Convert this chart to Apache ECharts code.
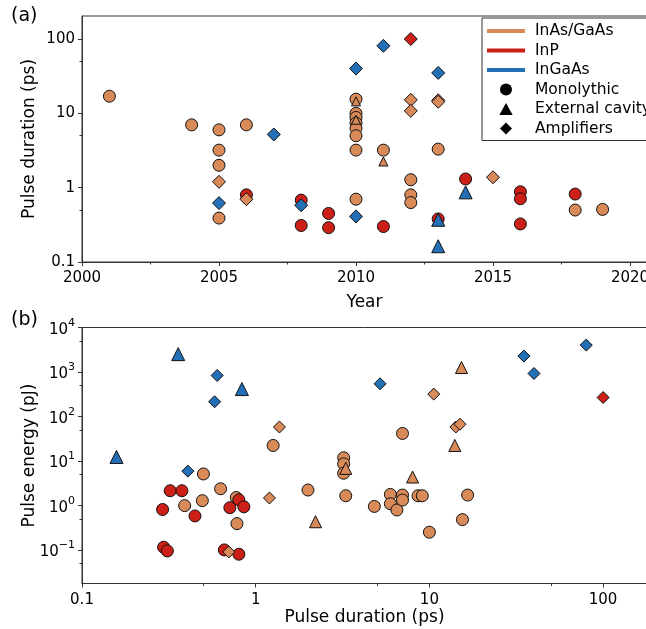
<!DOCTYPE html>
<html><head><meta charset="utf-8">
<script src="https://cdn.jsdelivr.net/npm/echarts@6/dist/echarts.min.js"></script>
<style>html,body{margin:0;padding:0;background:#fff}#c{width:646px;height:629px}</style>
</head><body><div id="c"></div><script>
// ---------- Panel (a): year vs pulse duration (ps) ----------
const a_InAs_mono = [[2001,17],[2004,7.0],[2005,6.0],[2005,3.2],[2005,2.0],[2005,0.39],[2006,7.0],
  [2010,15.5],[2010,10],[2010,8.8],[2010,7.4],[2010,6.3],[2010,5.0],[2010,3.2],[2010,0.70],
  [2011,3.2],[2012,1.28],[2012,0.80],[2012,0.63],[2013,3.3],[2018,0.50],[2019,0.51]];
const a_InP_mono = [[2006,0.80],[2008,0.68],[2008,0.31],[2009,0.45],[2009,0.29],[2011,0.30],
  [2013,0.38],[2014,1.31],[2016,0.88],[2016,0.71],[2016,0.325],[2018,0.82]];
const a_InAs_ext = [[2010,14.5],[2010,8.2],[2011,2.25]];
const a_InGaAs_ext = [[2013,0.37],[2013,0.163],[2014,0.865]];
const a_InAs_amp = [[2005,1.2],[2006,0.70],[2012,15.2],[2012,10.8],[2013,15.0],[2013,14.3],[2015,1.38]];
const a_InP_amp = [[2012,100]];
const a_InGaAs_amp = [[2005,0.62],[2007,5.2],[2008,0.58],[2010,40],[2010,0.41],[2011,81],[2013,35]];

// ---------- Panel (b): pulse duration (ps) vs pulse energy (pJ) ----------
const b_InAs_mono = [[1.26,22.3],[0.50,5.1],[0.628,2.37],[0.39,0.99],[0.493,1.28],[0.773,1.51],[0.78,0.39],
  [10,0.25],[7.0,41.5],[3.21,11.8],[3.21,8.6],[3.21,5.3],[2.0,2.22],[3.3,1.65],[4.82,0.95],[5.96,1.77],
  [5.96,1.09],[6.5,0.79],[7.0,1.71],[7.0,1.32],[8.6,1.65],[9.1,1.65],[15.5,0.48],[16.6,1.71]];
const b_InP_mono = [[0.322,2.14],[0.376,2.14],[0.291,0.81],[0.447,0.58],[0.80,1.34],[0.71,0.89],[0.855,0.93],
  [0.295,0.115],[0.31,0.095],[0.66,0.10],[0.80,0.08]];
const b_InAs_ext = [[15.3,1260],[14.0,22.3],[3.3,6.8],[8.0,4.35],[2.21,0.43]];
const b_InGaAs_ext = [[0.358,2520],[0.833,413],[0.158,12.3]];
const b_InAs_amp = [[1.37,58],[1.2,1.47],[10.6,318],[14.2,58],[15.0,67],[0.70,0.09]];
const b_InP_amp = [[100,267]];
const b_InGaAs_amp = [[0.60,835],[0.58,214],[0.407,5.9],[5.2,543],[35,2275],[40,925],[80,4020]];

// ---------- ticks ----------
const xTicksA = [2000,2005,2010,2015,2020];
const xTickLabelsA = ['2000','2005','2010','2015','2020'];
const xMinorA = [2002.5,2007.5,2012.5,2017.5];
const yTicksA = [0.1,1,10,100];
const yTickLabelsA = ['0.1','1','10','100'];
const yMinorA = [0.5,5,50];
const xTicksB = [0.1,1,10,100];
const xTickLabelsB = ['0.1','1','10','100'];
const xMinorB = [0.5,5,50];
const yTicksB = [0.1,1,10,100,1000,10000];
const yTickExpB = ['\u22121','0','1','2','3','4'];
const yMinorB = [0.05,0.5,5,50,500,5000];

const legendMaterials = ['InAs/GaAs','InP','InGaAs'];
const legendTypes = ['Monolythic','External cavity','Amplifiers'];

const ORANGE = '#d88a58', RED = '#cc1f17', BLUE = '#2370b7';
const FONT = 'DejaVu Sans';
const AX = '#333';

function lookup(ticks, labels, v) {
  for (let i = 0; i < ticks.length; i++) {
    if (Math.abs(v - ticks[i]) <= Math.abs(ticks[i]) * 1e-6) return labels[i];
  }
  return '';
}

function mainAxis(o) {
  return Object.assign({
    axisLine: {show: true, lineStyle: {color: AX, width: 1}},
    axisTick: {show: true, length: 4, lineStyle: {color: AX, width: 1}, customValues: o.ticks},
    axisLabel: {customValues: o.ticks, formatter: v => o.fmt(v), margin: o.margin, fontSize: 15,
      color: '#000', fontFamily: FONT, rich: o.rich},
    splitLine: {show: false},
    nameLocation: 'middle',
    nameMoveOverlap: false,
    nameTextStyle: {fontSize: 17, color: '#000', fontFamily: FONT}
  }, o.base);
}
function minorAxis(base, ticks) {
  return Object.assign({
    axisLine: {show: false},
    axisTick: {show: true, length: 2.5, lineStyle: {color: AX, width: 1}, customValues: ticks},
    axisLabel: {show: false},
    splitLine: {show: false}
  }, base);
}

const xaBase = {type: 'value', gridIndex: 0, min: 2000, max: 2000 + 565/27.4, position: 'bottom'};
const yaBase = {type: 'log', logBase: 10, gridIndex: 0, min: 0.1, max: 204, position: 'left'};
const xbBase = {type: 'log', logBase: 10, gridIndex: 1, min: 0.1, max: Math.pow(10, -1 + 565/173.7), position: 'bottom'};
const ybBase = {type: 'log', logBase: 10, gridIndex: 1, min: Math.pow(10, -1.755), max: 10000, position: 'left'};

function sc(name, data, xi, yi, symbol, size, color) {
  return {type: 'scatter', name: name, data: data, xAxisIndex: xi, yAxisIndex: yi, symbol: symbol,
    symbolSize: size, itemStyle: {color: color, borderColor: '#111', borderWidth: 1, opacity: 1},
    emphasis: {disabled: true}, silent: true, animation: false};
}

const series = [
  sc('a1', a_InAs_mono, 0, 0, 'circle', 12, ORANGE),
  sc('a2', a_InP_mono, 0, 0, 'circle', 12, RED),
  sc('a3', a_InAs_ext, 0, 0, 'triangle', 9, ORANGE),
  sc('a4', a_InGaAs_ext, 0, 0, 'triangle', 13, BLUE),
  sc('a5', a_InAs_amp, 0, 0, 'diamond', 13, ORANGE),
  sc('a6', a_InP_amp, 0, 0, 'diamond', 13, RED),
  sc('a7', a_InGaAs_amp, 0, 0, 'diamond', 13, BLUE),
  sc('b1', b_InAs_mono, 2, 2, 'circle', 12, ORANGE),
  sc('b2', b_InP_mono, 2, 2, 'circle', 12, RED),
  sc('b3', b_InAs_ext, 2, 2, 'triangle', 12, ORANGE),
  sc('b4', b_InGaAs_ext, 2, 2, 'triangle', 13, BLUE),
  sc('b5', b_InAs_amp, 2, 2, 'diamond', 12, ORANGE),
  sc('b6', b_InP_amp, 2, 2, 'diamond', 12, RED),
  sc('b7', b_InGaAs_amp, 2, 2, 'diamond', 12, BLUE)
];
const legendColors = [ORANGE, RED, BLUE];
legendMaterials.forEach((n, i) => series.push({type: 'scatter', name: n, data: [], xAxisIndex: 0, yAxisIndex: 0,
  itemStyle: {color: legendColors[i], opacity: 1}}));
legendTypes.forEach(n => series.push({type: 'scatter', name: n, data: [], xAxisIndex: 0, yAxisIndex: 0,
  itemStyle: {color: '#000', opacity: 1}}));

const lineIcon = 'path://M0,0H38V4H0Z';
const legendIcons = ['circle', 'path://M5,0L10,9L0,9Z', 'path://M5,0L10,5L5,10L0,5Z'];

const option = {
  backgroundColor: '#fff',
  animation: false,
  title: [
    {text: '(a)', left: 11, top: 7, padding: 0, textStyle: {fontSize: 19, fontWeight: 'normal', color: '#000', fontFamily: FONT}},
    {text: '(b)', left: 11, top: 311, padding: 0, textStyle: {fontSize: 19, fontWeight: 'normal', color: '#000', fontFamily: FONT}}
  ],
  grid: [
    {left: 82, top: 16, width: 565, height: 246, show: true, borderColor: AX, borderWidth: 1, containLabel: false, outerBoundsMode: 'none'},
    {left: 82, top: 327.5, width: 565, height: 256, show: true, borderColor: AX, borderWidth: 1, containLabel: false, outerBoundsMode: 'none'}
  ],
  xAxis: [
    mainAxis({base: Object.assign({name: 'Year', nameGap: 32}, xaBase), ticks: xTicksA, margin: 9,
      fmt: v => lookup(xTicksA, xTickLabelsA, v)}),
    minorAxis(xaBase, xMinorA),
    mainAxis({base: Object.assign({name: 'Pulse duration (ps)', nameGap: 26}, xbBase), ticks: xTicksB, margin: 9,
      fmt: v => lookup(xTicksB, xTickLabelsB, v)}),
    minorAxis(xbBase, xMinorB)
  ],
  yAxis: [
    mainAxis({base: Object.assign({name: 'Pulse duration (ps)', nameGap: 44}, yaBase), ticks: yTicksA, margin: 7,
      fmt: v => lookup(yTicksA, yTickLabelsA, v)}),
    minorAxis(yaBase, yMinorA),
    mainAxis({base: Object.assign({name: 'Pulse energy (pJ)', nameGap: 44}, ybBase), ticks: yTicksB, margin: 7,
      fmt: v => { const e = lookup(yTicksB, yTickExpB, v); return e === '' ? '' : '{b|10}{s|' + e + '}'; },
      rich: {b: {fontSize: 15, lineHeight: 20, verticalAlign: 'bottom', fontFamily: FONT, color: '#000'},
             s: {fontSize: 11, lineHeight: 11, verticalAlign: 'top', fontFamily: FONT, color: '#000'}}}),
    minorAxis(ybBase, yMinorB)
  ],
  legend: {
    left: 482, top: 18, orient: 'vertical', itemWidth: 38, itemHeight: 12, itemGap: 3.5,
    padding: [5, 10, 4, 5], borderColor: AX, borderWidth: 1, borderRadius: 0, backgroundColor: '#fff',
    selectedMode: false, z: 10, symbolKeepAspect: true,
    textStyle: {fontSize: 15.5, color: '#000', fontFamily: FONT, padding: [0, 0, 0, 5]},
    data: legendMaterials.map((n, i) => ({name: n, icon: lineIcon, itemStyle: {color: legendColors[i], borderWidth: 0, opacity: 1}}))
      .concat(legendTypes.map((n, i) => ({name: n, icon: legendIcons[i], itemStyle: {color: '#000', borderWidth: 0, opacity: 1}})))
  },
  series: series
};
const chart = echarts.init(document.getElementById('c'), null, {renderer: 'canvas'});
chart.setOption(option);
</script></body></html>
